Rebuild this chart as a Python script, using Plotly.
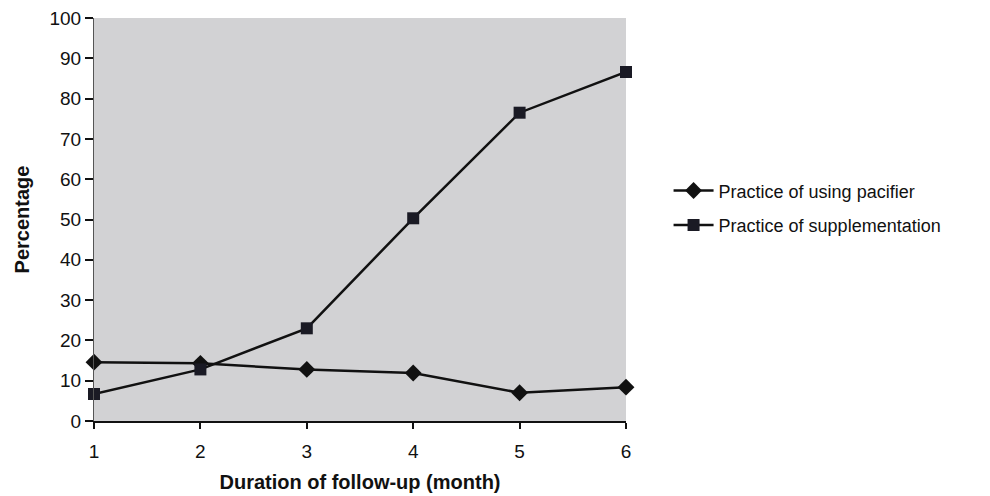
import plotly.graph_objects as go

months = [1, 2, 3, 4, 5, 6]
pacifier = [14.6, 14.3, 12.8, 11.9, 7.0, 8.4]
supplementation = [6.7, 12.8, 23.0, 50.3, 76.5, 86.6]
y_ticks = [0, 10, 20, 30, 40, 50, 60, 70, 80, 90, 100]

font_family = "Liberation Sans, Arial, sans-serif"

fig = go.Figure()
fig.add_trace(go.Scatter(
    x=months, y=pacifier, mode="lines+markers",
    name="Practice of using pacifier", legendgroup="a",
    line=dict(color="#111111", width=2.5),
    marker=dict(symbol="diamond", size=13, color="#111111"),
    cliponaxis=False,
))
fig.add_trace(go.Scatter(
    x=months, y=supplementation, mode="lines+markers",
    name="Practice of supplementation", legendgroup="b",
    line=dict(color="#111111", width=2.5),
    marker=dict(symbol="square", size=12, color="#1a1a24"),
    cliponaxis=False,
))

fig.update_layout(
    width=990, height=496,
    margin=dict(l=94, r=364, t=18, b=75, autoexpand=False),
    paper_bgcolor="white",
    plot_bgcolor="#d2d2d4",
    font=dict(family=font_family, color="#111111", size=19),
    showlegend=True,
    legend=dict(
        x=1.08, xanchor="left", y=0.617, yanchor="top",
        font=dict(size=18, family=font_family, color="#111111"),
        bgcolor="rgba(0,0,0,0)", tracegroupgap=8, traceorder="grouped",
        itemwidth=40,
    ),
)
fig.update_xaxes(
    range=[1, 6], tickvals=months, ticktext=[str(m) for m in months],
    showgrid=False, zeroline=False, automargin=False,
    showline=True, linecolor="#111111", linewidth=2,
    ticks="outside", ticklen=6, tickcolor="#111111", tickwidth=1.5,
    tickfont=dict(size=19), ticklabelstandoff=6,
    title=dict(text="<b>Duration of follow-up (month)</b>", font=dict(size=20), standoff=14),
)
fig.update_yaxes(
    range=[0, 100], tickvals=y_ticks,
    showgrid=False, zeroline=False, automargin=False,
    showline=True, linecolor="#555555", linewidth=1,
    ticks="outside", ticklen=8, tickcolor="#111111", tickwidth=1.5,
    tickfont=dict(size=19),
    title=dict(text="<b>Percentage</b>", font=dict(size=20), standoff=14),
)

fig.write_html("out.html")
